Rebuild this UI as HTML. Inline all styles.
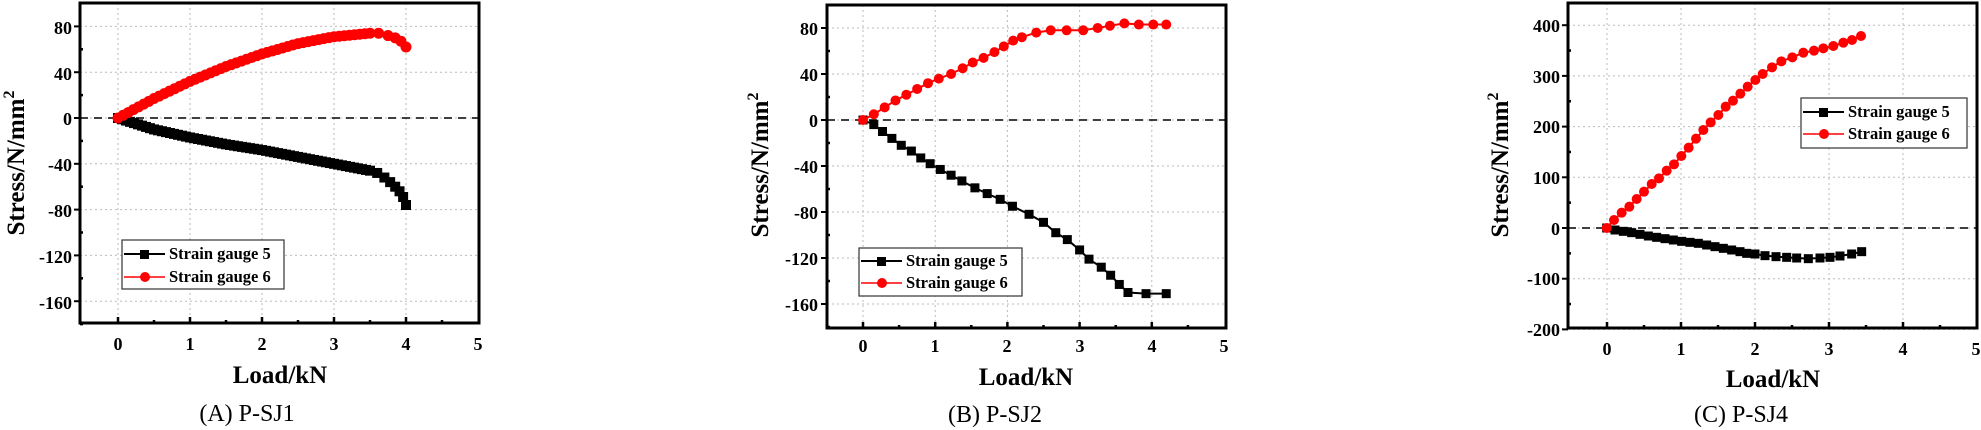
<!DOCTYPE html>
<html><head><meta charset="utf-8"><style>
html,body{margin:0;padding:0;background:#fff;}
svg{display:block;}
text{font-family:"Liberation Serif",serif;}
.t{font-size:18px;font-weight:bold;}
.ax{font-size:25px;font-weight:bold;}
.cap{font-size:24px;}
.lg{font-size:16.5px;font-weight:bold;}
</style></head><body>
<svg id="s" width="1981" height="430" viewBox="0 0 1981 430" xmlns="http://www.w3.org/2000/svg">
<g class="t" text-anchor="end">
<text x="72" y="34">80</text><text x="72" y="80">40</text><text x="72" y="125">0</text>
<text x="72" y="171">-40</text><text x="72" y="217">-80</text><text x="72" y="263">-120</text><text x="72" y="309">-160</text>
</g>
<g class="t" text-anchor="middle">
<text x="118" y="350">0</text><text x="190" y="350">1</text><text x="262" y="350">2</text><text x="334" y="350">3</text><text x="406" y="350">4</text><text x="478" y="350">5</text>
</g>
<text class="ax" text-anchor="middle" x="280" y="383">Load/kN</text>
<text class="cap" text-anchor="middle" x="247" y="421">(A) P-SJ1</text>
<text class="ax" text-anchor="middle" transform="translate(24,163) rotate(-90)">Stress/N/mm<tspan font-size="16" dy="-10">2</tspan></text>

<g class="t" text-anchor="end">
<text x="818" y="35">80</text><text x="818" y="81">40</text><text x="818" y="127">0</text>
<text x="818" y="173">-40</text><text x="818" y="219">-80</text><text x="818" y="265">-120</text><text x="818" y="311">-160</text>
</g>
<g class="t" text-anchor="middle">
<text x="863" y="352">0</text><text x="935" y="352">1</text><text x="1007" y="352">2</text><text x="1080" y="352">3</text><text x="1152" y="352">4</text><text x="1224" y="352">5</text>
</g>
<text class="ax" text-anchor="middle" x="1026" y="385">Load/kN</text>
<text class="cap" text-anchor="middle" x="995" y="422">(B) P-SJ2</text>
<text class="ax" text-anchor="middle" transform="translate(768,165) rotate(-90)">Stress/N/mm<tspan font-size="16" dy="-10">2</tspan></text>

<g class="t" text-anchor="end">
<text x="1560" y="32">400</text><text x="1560" y="83">300</text><text x="1560" y="133">200</text>
<text x="1560" y="184">100</text><text x="1560" y="235">0</text><text x="1560" y="285">-100</text><text x="1560" y="336">-200</text>
</g>
<g class="t" text-anchor="middle">
<text x="1607" y="355">0</text><text x="1681" y="355">1</text><text x="1755" y="355">2</text><text x="1829" y="355">3</text><text x="1903" y="355">4</text><text x="1976" y="355">5</text>
</g>
<text class="ax" text-anchor="middle" x="1773" y="387">Load/kN</text>
<text class="cap" text-anchor="middle" x="1741" y="422">(C) P-SJ4</text>
<text class="ax" text-anchor="middle" transform="translate(1508,165) rotate(-90)">Stress/N/mm<tspan font-size="16" dy="-10">2</tspan></text>

<g id="plots"></g>

<g>
<rect x="122" y="240" width="162" height="49" fill="#fff" stroke="#333" stroke-width="1.2"/>
<line x1="124" y1="254" x2="165" y2="254" stroke="#000" stroke-width="2"/><rect x="140" y="250" width="9" height="9" fill="#000"/>
<line x1="124" y1="277" x2="165" y2="277" stroke="#f00" stroke-width="1.5"/><circle cx="145" cy="277" r="5" fill="#f00"/>
<text class="lg" x="169" y="259">Strain gauge 5</text><text class="lg" x="169" y="282">Strain gauge 6</text>
</g>
<g>
<rect x="859" y="248" width="163" height="48" fill="#fff" stroke="#333" stroke-width="1.2"/>
<line x1="861" y1="261" x2="902" y2="261" stroke="#000" stroke-width="2"/><rect x="877" y="257" width="9" height="9" fill="#000"/>
<line x1="861" y1="283" x2="902" y2="283" stroke="#f00" stroke-width="1.5"/><circle cx="882" cy="283" r="5" fill="#f00"/>
<text class="lg" x="906" y="266">Strain gauge 5</text><text class="lg" x="906" y="288">Strain gauge 6</text>
</g>
<g>
<rect x="1801" y="98" width="166" height="50" fill="#fff" stroke="#333" stroke-width="1.2"/>
<line x1="1803" y1="112" x2="1844" y2="112" stroke="#000" stroke-width="2"/><rect x="1819" y="108" width="9" height="9" fill="#000"/>
<line x1="1803" y1="134" x2="1844" y2="134" stroke="#f00" stroke-width="1.5"/><circle cx="1824" cy="134" r="5" fill="#f00"/>
<text class="lg" x="1848" y="117">Strain gauge 5</text><text class="lg" x="1848" y="139">Strain gauge 6</text>
</g>
</svg>
<script>
var NS="http://www.w3.org/2000/svg",P=document.getElementById("plots");
function el(t,a){var e=document.createElementNS(NS,t);for(var k in a)e.setAttribute(k,a[k]);P.appendChild(e);return e;}
function interp(pts,n){var out=[];for(var i=0;i<pts.length-1;i++){for(var j=0;j<n;j++){var f=j/n;out.push([pts[i][0]+(pts[i+1][0]-pts[i][0])*f,pts[i][1]+(pts[i+1][1]-pts[i][1])*f]);}}out.push(pts[pts.length-1]);return out;}
function panel(o){
 var X=function(v){return o.x0+v*o.sx},Y=function(v){return o.y0-v*o.sy};
 o.xt.forEach(function(v){el("line",{x1:X(v),x2:X(v),y1:o.top,y2:o.bot,stroke:"#bbb","stroke-width":1,"stroke-dasharray":"2,3"});});
 o.yt.forEach(function(v){el("line",{x1:o.l,x2:o.r,y1:Y(v),y2:Y(v),stroke:"#bbb","stroke-width":1,"stroke-dasharray":"2,3"});});
 el("line",{x1:o.l,x2:o.r,y1:Y(0),y2:Y(0),stroke:"#000","stroke-width":1.6,"stroke-dasharray":"8,6"});
 o.xt.forEach(function(v){el("line",{x1:X(v),x2:X(v),y1:o.bot,y2:o.bot-6,stroke:"#000","stroke-width":2.5});});
 o.xm.forEach(function(v){el("line",{x1:X(v),x2:X(v),y1:o.bot,y2:o.bot-3,stroke:"#000","stroke-width":2.5});});
 o.yt.forEach(function(v){el("line",{x1:o.l-6,x2:o.l,y1:Y(v),y2:Y(v),stroke:"#000","stroke-width":2});});
 o.ym.forEach(function(v){el("line",{x1:o.l,x2:o.l+3,y1:Y(v),y2:Y(v),stroke:"#000","stroke-width":2.5});});
 el("rect",{x:o.l,y:o.top,width:o.r-o.l,height:o.bot-o.top,fill:"none",stroke:"#000","stroke-width":3});
 function series(d,col,sq){
  var pts=d.map(function(p){return o.pix?p:[X(p[0]),Y(p[1])]});
  el("polyline",{points:pts.map(function(p){return p.join(",")}).join(" "),fill:"none",stroke:col,"stroke-width":2});
  var r=o.r0||5;
  pts.forEach(function(p){ if(sq) el("rect",{x:p[0]-r+0.5,y:p[1]-r+0.5,width:2*r-1,height:2*r-1,fill:col}); else el("circle",{cx:p[0],cy:p[1],r:r,fill:col});});
 }
 series(o.b,"#000",true); series(o.rd,"#f00",false);
}
panel({x0:118,sx:72,y0:118,sy:1.145,l:80,r:479,top:3,bot:323,r0:5.5,
 xt:[0,1,2,3,4],xm:[0.5,1.5,2.5,3.5,4.5],yt:[80,40,0,-40,-80,-120,-160],ym:[60,20,-20,-60,-100,-140,-180],
 rd:interp([[0,0],[0.5,17],[1,32],[1.5,45],[2,56],[2.5,65],[3,71],[3.5,74]],7).concat([[3.62,74],[3.75,72],[3.85,70],[3.93,67],[4.0,62]]),
 b:interp([[0,0],[0.5,-10],[1,-17],[1.5,-23],[2,-28],[2.5,-34],[3,-40],[3.5,-46]],9).concat([[3.6,-48],[3.7,-52],[3.78,-56],[3.85,-60],[3.91,-64],[3.96,-69],[4.0,-76]])});
panel({x0:863,sx:72.2,y0:120,sy:1.15,l:827,r:1226,top:5,bot:328,
 xt:[0,1,2,3,4],xm:[0.5,1.5,2.5,3.5,4.5],yt:[80,40,0,-40,-80,-120,-160],ym:[60,20,-20,-60,-100,-140,-180],
 rd:[[0,0],[0.15,5],[0.3,11],[0.45,17],[0.6,22],[0.75,27],[0.9,32],[1.05,36],[1.22,40],[1.38,45],[1.52,50],[1.67,54],[1.82,59],[1.95,64],[2.08,69],[2.2,72],[2.4,76],[2.6,78],[2.82,78],[3.05,78],[3.25,80],[3.42,82],[3.62,84],[3.82,83],[4.02,83],[4.2,83]],
 b:[[0,0],[0.15,-4],[0.27,-10],[0.4,-16],[0.53,-22],[0.67,-27],[0.8,-33],[0.93,-38],[1.07,-43],[1.22,-48],[1.37,-53],[1.55,-59],[1.72,-64],[1.9,-69],[2.07,-75],[2.3,-82],[2.5,-89],[2.67,-98],[2.83,-104],[3.0,-113],[3.13,-121],[3.3,-128],[3.43,-135],[3.55,-143],[3.67,-150],[3.92,-151],[4.2,-151]]});
function cz(a){return a.map(function(p){return [1560+p[0]/3,p[1]/3]});}
panel({x0:1607,sx:74,y0:228,sy:0.507,l:1568,r:1977,top:3,bot:328,pix:true,
 xt:[0,1,2,3,4],xm:[0.5,1.5,2.5,3.5,4.5],yt:[400,300,200,100,0,-100,-200],ym:[350,250,150,50,-50,-150],
 rd:cz([[140,684],[162,660],[185,638],[208,620],[230,597],[252,575],[275,552],[297,535],[320,512],[342,493],[364,468],[386,443],[408,416],[430,390],[452,367],[475,345],[497,320],[519,302],[541,281],[563,260],[586,240],[608,222],[636,202],[664,184],[697,172],[730,158],[762,152],[790,145],[820,138],[850,128],[876,120],[903,108]]),
 b:cz([[140,684],[165,690],[190,694],[215,698],[240,703],[265,708],[290,712],[315,716],[340,720],[365,724],[390,727],[415,730],[440,735],[465,740],[490,745],[515,750],[540,755],[560,760],[585,762],[615,767],[648,770],[680,772],[710,774],[745,776],[780,774],[810,772],[840,768],[875,762],[905,755]])});
</script>
</body></html>
